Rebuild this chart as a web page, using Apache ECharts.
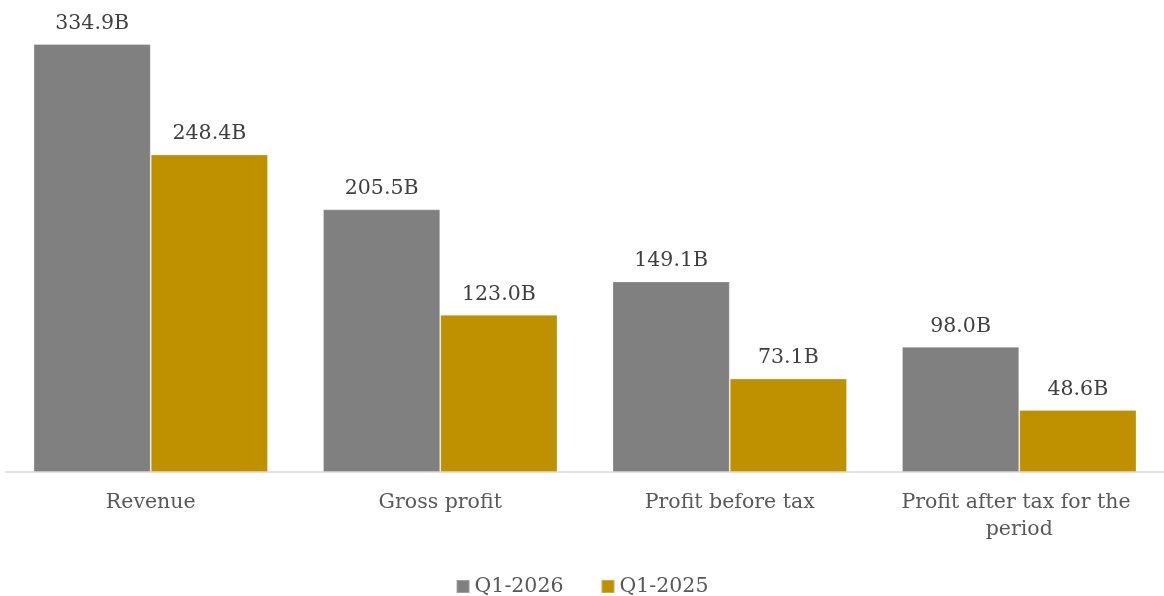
<!DOCTYPE html>
<html>
<head>
<meta charset="utf-8">
<script src="https://cdn.jsdelivr.net/npm/echarts@6/dist/echarts.min.js"></script>
<style>html,body{margin:0;padding:0;background:#fff;}#c{width:1164px;height:596px;}</style>
</head>
<body>
<div id="c"></div>
<script>
const categories = ["Revenue", "Gross profit", "Profit before tax", "Profit after tax for the period"];
const seriesNames = ["Q1-2026", "Q1-2025"];
const q1_2026 = [334.9, 205.5, 149.1, 98.0];
const q1_2025 = [248.4, 123.0, 73.1, 48.6];
const colors = ["#808080", "#BF9000"];
const FONT = "DejaVu Serif";

const chart = echarts.init(document.getElementById('c'));
const mkSeries = (name, data, color) => ({
  name: name,
  type: 'bar',
  data: data,
  barGap: '0%',
  barCategoryGap: '19%',
  itemStyle: { color: color, borderColor: 'rgba(255,255,255,0.25)', borderWidth: 1 },
  label: {
    show: true,
    position: 'top',
    distance: 10,
    fontFamily: FONT,
    fontSize: 20.5,
    color: '#404040',
    formatter: p => p.value.toFixed(1) + 'B'
  }
});
chart.setOption({
  animation: false,
  grid: { left: 6, top: 24.7, width: 1160, height: 447.3, containLabel: false },
  xAxis: {
    type: 'category',
    data: categories,
    axisLine: { lineStyle: { color: '#d9d9d9', width: 1.5 } },
    axisTick: { show: false },
    axisLabel: {
      fontFamily: FONT, fontSize: 20.5, color: '#595959', margin: 17,
      lineHeight: 27, width: 270, overflow: 'break', interval: 0
    }
  },
  yAxis: {
    type: 'value', min: 0, max: 350,
    show: false,
    splitLine: { show: false }
  },
  legend: {
    data: seriesNames,
    top: 571,
    left: 'center',
    itemWidth: 13, itemHeight: 13, itemGap: 37,
    icon: 'rect',
    textStyle: { fontFamily: FONT, fontSize: 20.5, color: '#595959' }
  },
  series: [
    mkSeries(seriesNames[0], q1_2026, colors[0]),
    mkSeries(seriesNames[1], q1_2025, colors[1])
  ]
});
</script>
</body>
</html>
